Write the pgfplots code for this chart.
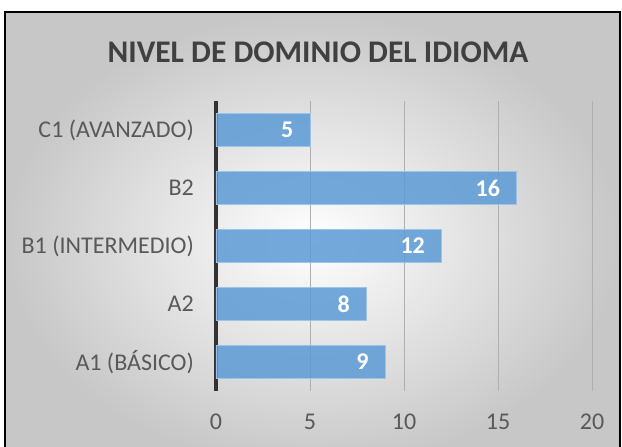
\documentclass[border=0pt]{standalone}
\usepackage{fontspec}
\setmainfont{Carlito}
\usepackage{pgfplots}
\pgfplotsset{compat=1.18}

\definecolor{barblue}{RGB}{91,155,213}
\definecolor{titlegray}{RGB}{64,64,64}
\definecolor{labelgray}{RGB}{89,89,89}
\definecolor{gridgray}{RGB}{175,175,175}

\begin{document}
\begin{tikzpicture}[x=1pt,y=1pt]
\useasboundingbox (0,0) rectangle (622,447);
\fill[white] (0,0) rectangle (622,447);
\shade[inner color=white, outer color=black!22] (5,-20) rectangle (620,435);
\draw[line width=1.6pt, black] (5,-20) rectangle (620,435);

\node[anchor=base, text=titlegray, font=\fontsize{31.5}{31.5}\selectfont\bfseries]
  at (318,384) {NIVEL DE DOMINIO DEL IDIOMA};

\begin{axis}[
    at={(216pt,56pt)}, anchor=south west,
    scale only axis,
    width=376pt, height=290pt,
    xbar,
    bar width=0.56,
    xmin=0, xmax=20,
    ymin=-0.5, ymax=4.5,
    xtick={0,5,10,15,20},
    ytick={0,1,2,3,4},
    yticklabels={A1 (BÁSICO),A2,B1 (INTERMEDIO),B2,C1 (AVANZADO)},
    axis lines*=left,
    x axis line style={draw=none},
    y axis line style={line width=3.8pt, black!80},
    major tick length=0pt,
    xmajorgrids,
    grid style={gridgray, line width=0.8pt},
    tick label style={text=labelgray, font=\fontsize{24}{24}\selectfont},
    /pgf/number format/assume math mode=true,
    yticklabel style={inner sep=0pt, anchor=east, xshift=-22pt},
    xticklabel style={inner sep=0pt, anchor=base, yshift=-39pt},
    nodes near coords,
    nodes near coords style={anchor=east, xshift=-13pt, text=white,
        font=\fontsize{24}{24}\selectfont\bfseries},
    point meta=x,
]
\addplot[fill=barblue, fill opacity=0.85, draw=barblue!60!white, line width=0.8pt,
  text opacity=1]
  coordinates {(9,0) (8,1) (12,2) (16,3) (5,4)};
\end{axis}
\end{tikzpicture}
\end{document}
